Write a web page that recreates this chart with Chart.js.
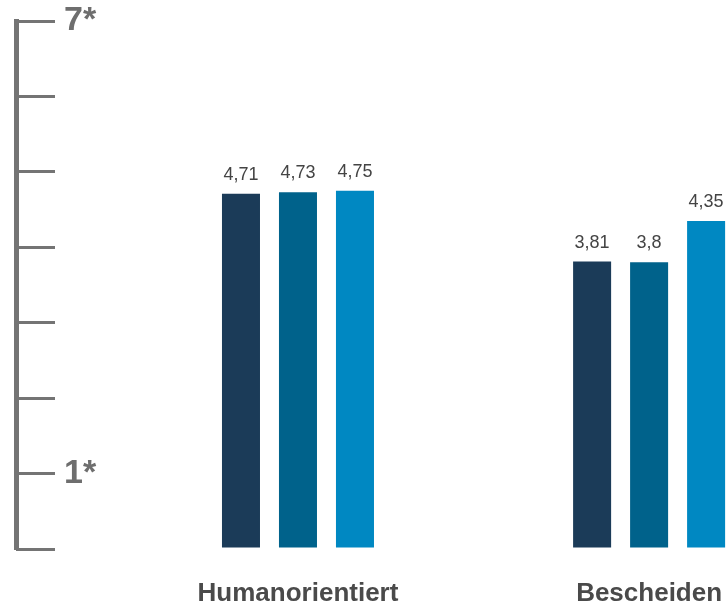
<!DOCTYPE html>
<html>
<head>
<meta charset="utf-8">
<script src="https://cdn.jsdelivr.net/npm/chart.js@4/dist/chart.umd.min.js"></script>
<style>
  html, body { margin: 0; padding: 0; background: #fff; overflow: hidden; }
  #wrap { width: 726px; height: 606px; }
</style>
</head>
<body>
<div id="wrap"><canvas id="chart" width="726" height="606"></canvas></div>
<script>
// categories and values
var categories = ['Humanorientiert', 'Bescheiden'];
var series1 = [4.71, 3.81];
var series2 = [4.73, 3.8];
var series3 = [4.75, 4.35];
var seriesColors = ['#1b3b58', '#00628b', '#0088c2'];

// left scale: only two marks get a label
var yLabelValues = [1, 7];
var yLabelTexts = ['1*', '7*'];

var fontFamily = "'Liberation Sans', Arial, Helvetica, sans-serif";
var axisGray = '#747474';

// turn the arrays into {x, y} points on a linear x scale (index = category)
function toPoints(values) {
    var points = [];
    for (var i = 0; i < values.length; i++) points.push({ x: i, y: values[i] });
    return points;
}

// Draw the numbers above each bar, comma as decimal mark
var valueLabels = {
    id: 'valueLabels',
    afterDatasetsDraw: function (chart) {
        var ctx = chart.ctx;
        ctx.save();
        ctx.font = '18px ' + fontFamily;
        ctx.fillStyle = '#444444';
        ctx.textAlign = 'center';
        ctx.textBaseline = 'alphabetic';
        chart.data.datasets.forEach(function (ds, di) {
            var meta = chart.getDatasetMeta(di);
            meta.data.forEach(function (bar, i) {
                var text = String(ds.data[i].y).replace('.', ',');
                ctx.fillText(text, bar.x, bar.y - 14);
            });
        });
        ctx.restore();
    }
};

function zeroPadding(scale) {
    scale.paddingTop = 0;
    scale.paddingBottom = 0;
    scale.paddingLeft = 0;
    scale.paddingRight = 0;
}

var datasets = [series1, series2, series3].map(function (s, i) {
    return {
        data: toPoints(s),
        backgroundColor: seriesColors[i],
        borderWidth: 0,
        categoryPercentage: 0.487,
        barPercentage: 0.667
    };
});

new Chart(document.getElementById('chart').getContext('2d'), {
    type: 'bar',
    data: { datasets: datasets },
    plugins: [valueLabels],
    options: {
        responsive: false,
        animation: false,
        layout: { padding: { left: 16, top: 21, right: 0, bottom: 0 } },
        plugins: {
            legend: { display: false },
            tooltip: { enabled: false }
        },
        scales: {
            x: {
                type: 'linear',
                position: 'bottom',
                offset: false,
                min: -0.692,
                max: 1.219,
                grid: { display: false, drawTicks: false, offset: false },
                border: { display: false },
                afterBuildTicks: function (scale) {
                    scale.ticks = categories.map(function (c, i) { return { value: i }; });
                },
                afterFit: function (scale) {
                    scale.height = 57;
                    zeroPadding(scale);
                },
                ticks: {
                    padding: 29,
                    maxRotation: 0,
                    autoSkip: false,
                    color: '#4a4a4a',
                    font: { family: fontFamily, size: 26, weight: 'bold' },
                    callback: function (v) { return categories[v] !== undefined ? categories[v] : ''; }
                }
            },
            y: {
                position: 'left',
                weight: 1,
                min: 0,
                max: 7,
                grid: {
                    drawOnChartArea: false,
                    drawTicks: true,
                    tickLength: 39,
                    lineWidth: 3,
                    color: axisGray
                },
                border: { display: false },
                afterFit: function (scale) {
                    scale.width = 39;
                    zeroPadding(scale);
                },
                ticks: {
                    stepSize: 1,
                    mirror: true,
                    padding: 9,
                    color: '#6e6e6e',
                    font: { family: fontFamily, size: 34, weight: 'bold' },
                    callback: function (v) {
                        var k = yLabelValues.indexOf(v);
                        return k === -1 ? '' : yLabelTexts[k];
                    }
                }
            },
            y2: {
                position: 'left',
                weight: 10,
                min: 0,
                max: 7,
                grid: { display: false },
                border: { display: true, width: 5, color: axisGray },
                ticks: { display: false },
                afterFit: function (scale) {
                    scale.width = 0;
                    zeroPadding(scale);
                }
            }
        }
    }
});
</script>
</body>
</html>
